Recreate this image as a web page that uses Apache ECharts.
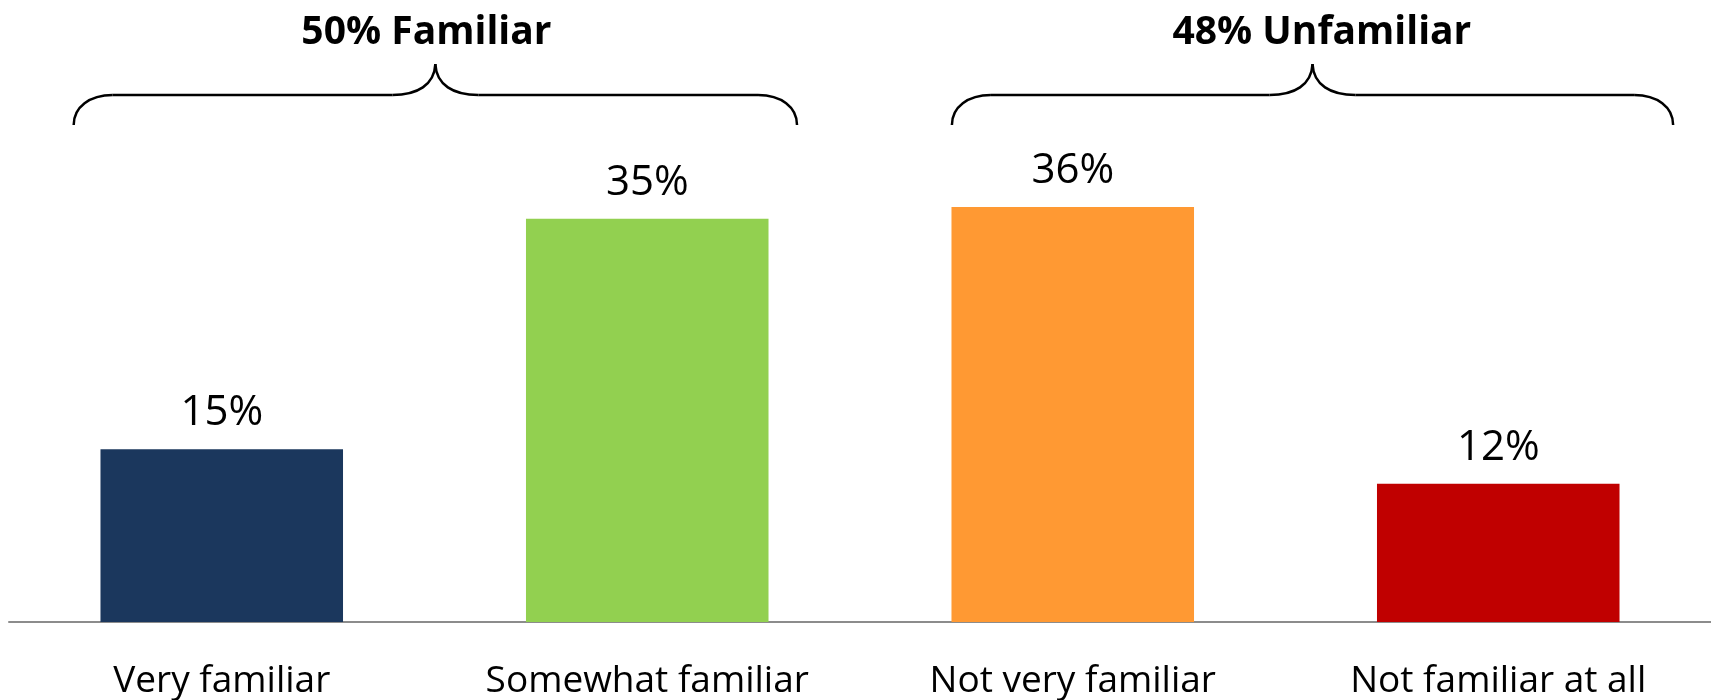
<!DOCTYPE html>
<html>
<head>
<meta charset="utf-8">
<script src="https://cdn.jsdelivr.net/npm/echarts@6/dist/echarts.min.js"></script>
<style>
  html, body { margin: 0; padding: 0; background: #fff; }
  #chart { width: 1711px; height: 700px; }
</style>
</head>
<body>
<div id="chart"></div>
<script>
// Familiarity survey responses (% of respondents)
const categories = ['Very familiar', 'Somewhat familiar', 'Not very familiar', 'Not familiar at all'];
const shares = [15, 35, 36, 12];
const barColors = ['#1B375D', '#92D050', '#FF9933', '#C00000'];

// Bracket groups: first/last category covered and the headline shown above
const groupNames = ['Familiar', 'Unfamiliar'];
const groupTotals = [50, 48];
const groupSpans = [[0, 1], [2, 3]];

const FONT = '"Open Sans", "Noto Sans", sans-serif';

const chart = echarts.init(document.getElementById('chart'), null, { renderer: 'canvas' });

chart.setOption({
  animation: false,
  backgroundColor: '#ffffff',
  grid: { left: 9, right: 0, top: 161, bottom: 76, containLabel: false },
  xAxis: {
    type: 'category',
    data: categories,
    axisLine: { show: true, lineStyle: { color: '#8C8C8C', width: 2 } },
    axisTick: { show: false },
    axisLabel: { color: '#000', fontFamily: FONT, fontSize: 37, margin: 41, interval: 0 }
  },
  yAxis: {
    type: 'value', min: 0, max: 40, show: false,
    splitLine: { show: false }
  },
  series: [{
    type: 'bar',
    data: shares.map((v, i) => ({ value: v, itemStyle: { color: barColors[i] } })),
    barWidth: '57%',
    label: {
      show: true, position: 'top', distance: 15,
      formatter: p => p.value + '%',
      color: '#000', fontFamily: FONT, fontSize: 42
    }
  }]
});

// Curly brackets with headline above each pair of categories
function drawBrackets() {
  const c0 = chart.convertToPixel({ xAxisIndex: 0 }, 0);
  const c1 = chart.convertToPixel({ xAxisIndex: 0 }, 1);
  const band = c1 - c0;
  // how far each bracket reaches past its outer bar centres, in band units
  const reach = [[0.348, 0.352], [0.284, 0.411]];
  // headline offset from the bracket tip, in band units
  const headShift = [-0.021, 0.022];
  const yEnd = 125, yRun = 95, yTip = 64;
  const stroke = { stroke: '#000', lineWidth: 2.5, fill: null };
  const elements = [];
  const curve = (x1, y1, cx1, cy1, cx2, cy2, x2, y2) => ({
    type: 'bezierCurve', silent: true, style: stroke,
    shape: { x1, y1, cpx1: cx1, cpy1: cy1, cpx2: cx2, cpy2: cy2, x2, y2 }
  });
  const line = (x1, y1, x2, y2) => ({
    type: 'line', silent: true, style: stroke, shape: { x1, y1, x2, y2 }
  });
  groupSpans.forEach((span, g) => {
    const L = chart.convertToPixel({ xAxisIndex: 0 }, span[0]) - reach[g][0] * band;
    const R = chart.convertToPixel({ xAxisIndex: 0 }, span[1]) + reach[g][1] * band;
    const M = (L + R) / 2;
    elements.push(curve(L, yEnd, L, yRun + 12, L + 16, yRun, L + 39, yRun));
    elements.push(line(L + 39, yRun, M - 43, yRun));
    elements.push(curve(M - 43, yRun, M - 18, yRun, M - 1, yRun - 10, M, yTip));
    elements.push(curve(M, yTip, M + 1, yRun - 10, M + 18, yRun, M + 43, yRun));
    elements.push(line(M + 43, yRun, R - 39, yRun));
    elements.push(curve(R - 39, yRun, R - 16, yRun, R, yRun + 12, R, yEnd));
    elements.push({
      type: 'text',
      x: M + headShift[g] * band, y: 33, silent: true,
      style: {
        text: groupTotals[g] + '% ' + groupNames[g],
        fill: '#000', font: `bold 39px ${FONT}`,
        align: 'center', verticalAlign: 'middle'
      }
    });
  });
  chart.setOption({ graphic: { elements } });
}
drawBrackets();
</script>
</body>
</html>
